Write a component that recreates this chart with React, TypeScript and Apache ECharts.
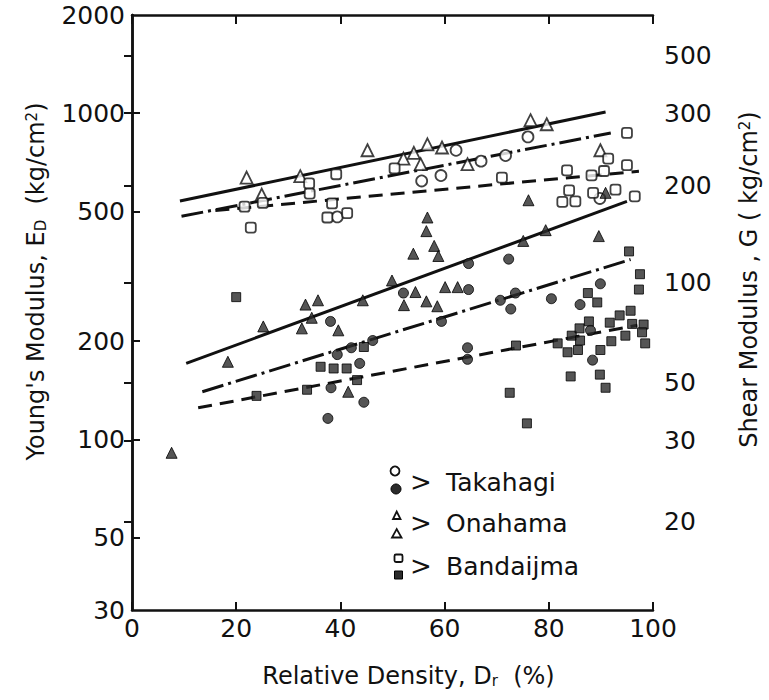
import React, { useEffect, useRef } from "react";
import * as echarts from "echarts";

// ---- data (x: relative density %, y: Young's modulus E_D kg/cm2) ----
const leftTickValues = [30, 50, 100, 200, 500, 1000, 2000];
const leftInnerTicks = [50, 100, 200, 500, 1000];
const rightTickLabels = ["20", "30", "50", "100", "200", "300", "500"];
const rightTickAtE = [56, 99, 149, 303, 601, 1000, 1500];

const takahagiOpen: number[][] = [
  [39.4, 481], [55.6, 620], [59.3, 644], [62.2, 770], [67.0, 713], [71.7, 742], [76.0, 846], [89.8, 548],
];
const takahagiFilled: number[][] = [
  [38.1, 230], [39.4, 182], [42.1, 191], [43.7, 171], [46.2, 201], [44.5, 130], [37.6, 116], [38.2, 144],
  [52.1, 281], [59.4, 230], [64.4, 191], [64.4, 176], [64.6, 346], [64.6, 288], [70.7, 267], [72.3, 357],
  [72.7, 251], [73.6, 281], [80.5, 270], [86.0, 259], [89.9, 300], [88.0, 216], [88.4, 175],
];
const onahamaOpen: number[][] = [
  [22.0, 635], [24.9, 563], [32.3, 641], [45.2, 770], [52.1, 726], [54.1, 756], [56.7, 803], [59.5, 785],
  [55.4, 698], [64.4, 698], [76.5, 952], [79.6, 925], [89.9, 770],
];
const onahamaFilled: number[][] = [
  [7.6, 91], [18.4, 173], [25.2, 222], [32.6, 219], [33.3, 259], [34.5, 236], [35.7, 267], [39.6, 216],
  [41.5, 140], [44.3, 267], [49.9, 307], [52.2, 258], [54.4, 283], [56.5, 265], [58.6, 256], [60.1, 293],
  [62.5, 293], [54.0, 371], [56.5, 435], [56.7, 479], [58.0, 392], [58.8, 365], [75.1, 406], [79.4, 438],
  [76.1, 541], [89.6, 420], [90.9, 570],
];
const bandaijmaOpen: number[][] = [
  [21.6, 517], [22.8, 446], [25.1, 531], [34.0, 609], [34.1, 567], [39.2, 650], [38.4, 529], [37.5, 479],
  [41.3, 494], [50.4, 677], [71.0, 635], [83.5, 668], [83.9, 580], [82.6, 535], [85.1, 537], [88.2, 645],
  [88.5, 570], [90.6, 665], [91.4, 726], [92.8, 583], [95.0, 693], [95.0, 870], [96.5, 556],
];
const bandaijmaFilled: number[][] = [
  [20.0, 273], [23.9, 136], [33.6, 142], [36.2, 167], [38.7, 165], [41.2, 165], [43.2, 152], [44.5, 192],
  [73.7, 194], [72.5, 139], [75.8, 112], [81.7, 197], [83.6, 185], [85.6, 188], [84.4, 208], [86.0, 201],
  [85.9, 219], [87.5, 281], [89.3, 263], [87.7, 230], [91.7, 228], [93.6, 240], [95.7, 248], [96.0, 226],
  [98.2, 225], [92.0, 200], [94.7, 208], [97.9, 213], [98.5, 197], [89.9, 188], [89.8, 158], [84.2, 156],
  [90.9, 144], [95.4, 377], [97.5, 321], [97.3, 288],
];

// fitted lines (end points)
const onahamaOpenFit: number[][] = [[9.2, 538], [90.9, 1009]];
const takahagiOpenFit: number[][] = [[9.5, 483], [91.9, 870]];
const bandaijmaOpenFit: number[][] = [[16, 503], [97.3, 664]];
const onahamaFilledFit: number[][] = [[10.4, 171], [95.0, 537]];
const takahagiFilledFit: number[][] = [[13.5, 140], [95.7, 356]];
const bandaijmaFilledFit: number[][] = [[12.7, 125], [97.0, 224]];

const FONT = "DejaVu Sans";
const INK = "#111";
const FILL_DARK = "#2b2b2b";

const openStyle = { color: "#fff", borderColor: INK, borderWidth: 1.8 };
const filledStyle = { color: FILL_DARK, borderColor: "#000", borderWidth: 1 };

function scatter(name: string, data: number[][], symbol: string, size: number, style: any) {
  return {
    type: "scatter",
    name,
    data,
    symbol,
    symbolSize: size,
    itemStyle: style,
    z: 3,
    silent: true,
  };
}

function fitLine(name: string, data: number[][], lineType: any) {
  return {
    type: "line",
    name,
    data,
    showSymbol: false,
    symbol: "none",
    lineStyle: { color: INK, width: 3, type: lineType },
    z: 2,
    silent: true,
  };
}

function rightLabel(v: number) {
  let best = 0;
  let bd = Infinity;
  rightTickAtE.forEach((e, i) => {
    const d = Math.abs(Math.log10(e) - Math.log10(v));
    if (d < bd) {
      bd = d;
      best = i;
    }
  });
  return rightTickLabels[best];
}

const richName = {
  sub: { fontSize: 15, fontFamily: FONT, color: INK, verticalAlign: "bottom" },
  sup: { fontSize: 15, fontFamily: FONT, color: INK, verticalAlign: "top" },
};

const legendGraphics: any[] = [
  { type: "circle", shape: { cx: 395, cy: 471, r: 4.5 }, style: { fill: "#fff", stroke: INK, lineWidth: 1.8 } },
  { type: "circle", shape: { cx: 396, cy: 489, r: 5 }, style: { fill: FILL_DARK, stroke: "#000", lineWidth: 1 } },
  { type: "polygon", shape: { points: [[393, 519], [400.5, 519], [396.7, 511.5]] }, style: { fill: "#fff", stroke: INK, lineWidth: 1.8 } },
  { type: "polygon", shape: { points: [[392, 537.5], [401.5, 537.5], [396.7, 529]] }, style: { fill: "#fff", stroke: INK, lineWidth: 1.8 } },
  { type: "rect", shape: { x: 394.5, y: 554.5, width: 8, height: 7.5, r: 1.5 }, style: { fill: "#fff", stroke: INK, lineWidth: 1.8 } },
  { type: "rect", shape: { x: 394.5, y: 571, width: 8, height: 8 }, style: { fill: FILL_DARK, stroke: "#000", lineWidth: 1 } },
];
const legendRows = [
  { label: "Takahagi", y: 482 },
  { label: "Onahama", y: 523 },
  { label: "Bandaijma", y: 566 },
];
legendRows.forEach((r) => {
  legendGraphics.push({
    type: "text",
    x: 421,
    y: r.y,
    style: { text: ">", fontSize: 26, fontFamily: FONT, fill: INK, align: "center", verticalAlign: "middle", textAlign: "center", textVerticalAlign: "middle" },
  });
  legendGraphics.push({
    type: "text",
    x: 446,
    y: r.y,
    style: { text: r.label, fontSize: 25, fontFamily: FONT, fill: INK, align: "left", verticalAlign: "middle", textAlign: "left", textVerticalAlign: "middle" },
  });
});

const axisLine = { show: true, lineStyle: { color: INK, width: 2.5 } };

const option: any = {
  animation: false,
  backgroundColor: "#fff",
  grid: { left: 132, right: 113, top: 15, bottom: 90, containLabel: false },
  xAxis: [
    {
      type: "value",
      min: 0,
      max: 100,
      interval: 20,
      position: "bottom",
      axisLine,
      axisTick: { show: true, inside: true, length: 8, lineStyle: { color: INK, width: 2 } },
      axisLabel: { fontSize: 25, fontFamily: FONT, color: INK, margin: 6 },
      splitLine: { show: false },
      name: "Relative Density, D{sub|r}  (%)",
      nameLocation: "middle",
      nameGap: 54,
      nameTextStyle: { fontSize: 24, fontFamily: FONT, color: INK, padding: [0, 0, 0, 32], rich: richName },
    },
    {
      type: "value",
      min: 0,
      max: 100,
      interval: 20,
      position: "top",
      axisLine,
      axisTick: { show: true, inside: true, length: 9, lineStyle: { color: INK, width: 2 } },
      axisLabel: { show: false },
      splitLine: { show: false },
    },
  ],
  yAxis: [
    {
      type: "log",
      logBase: 10,
      min: 30,
      max: 2000,
      position: "left",
      axisLine,
      axisTick: { show: true, inside: true, length: 8, customValues: leftInnerTicks, lineStyle: { color: INK, width: 2 } },
      minorTick: { show: false },
      axisLabel: { fontSize: 25, fontFamily: FONT, color: INK, margin: 7, customValues: leftTickValues, formatter: (v: number) => String(Math.round(v)) },
      splitLine: { show: false },
      name: "Young's Modulus, E{sub|D}  (kg/cm{sup|2})",
      nameLocation: "middle",
      nameRotate: 90,
      nameGap: 84,
      nameTextStyle: { fontSize: 24, fontFamily: FONT, color: INK, padding: [0, 0, 0, 62], rich: richName },
    },
    {
      type: "log",
      logBase: 10,
      min: 30,
      max: 2000,
      position: "right",
      axisLine,
      axisTick: { show: true, inside: true, length: 8, customValues: rightTickAtE, lineStyle: { color: INK, width: 2 } },
      axisLabel: { fontSize: 25, fontFamily: FONT, color: INK, margin: 11, customValues: rightTickAtE, formatter: (v: number) => rightLabel(v) },
      splitLine: { show: false },
      name: "Shear Modulus , G ( kg/cm{sup|2})",
      nameLocation: "middle",
      nameRotate: 90,
      nameGap: 84,
      nameTextStyle: { fontSize: 24, fontFamily: FONT, color: INK, padding: [0, 0, 0, 66], rich: richName },
    },
  ],
  graphic: legendGraphics,
  series: [
    fitLine("Onahama (open) fit", onahamaOpenFit, "solid"),
    fitLine("Takahagi (open) fit", takahagiOpenFit, [22, 5, 3, 5]),
    fitLine("Bandaijma (open) fit", bandaijmaOpenFit, [14, 8]),
    fitLine("Onahama (filled) fit", onahamaFilledFit, "solid"),
    fitLine("Takahagi (filled) fit", takahagiFilledFit, [22, 5, 3, 5]),
    fitLine("Bandaijma (filled) fit", bandaijmaFilledFit, [14, 8]),
    scatter("Takahagi (open)", takahagiOpen, "circle", 11, openStyle),
    scatter("Onahama (open)", onahamaOpen, "triangle", 12, openStyle),
    scatter("Bandaijma (open)", bandaijmaOpen, "roundRect", 10, openStyle),
    scatter("Takahagi (filled)", takahagiFilled, "circle", 10, filledStyle),
    scatter("Onahama (filled)", onahamaFilled, "triangle", 11, filledStyle),
    scatter("Bandaijma (filled)", bandaijmaFilled, "rect", 9, filledStyle),
  ],
};

export default function App() {
  const ref = useRef<HTMLDivElement>(null);
  useEffect(() => {
    if (!ref.current) return;
    const chart = echarts.init(ref.current, null, { renderer: "svg" });
    chart.setOption(option);
    return () => chart.dispose();
  }, []);
  return (
    <div
      ref={ref}
      style={{ position: "fixed", left: 0, top: 0, width: 769, height: 700, background: "#fff" }}
    />
  );
}
